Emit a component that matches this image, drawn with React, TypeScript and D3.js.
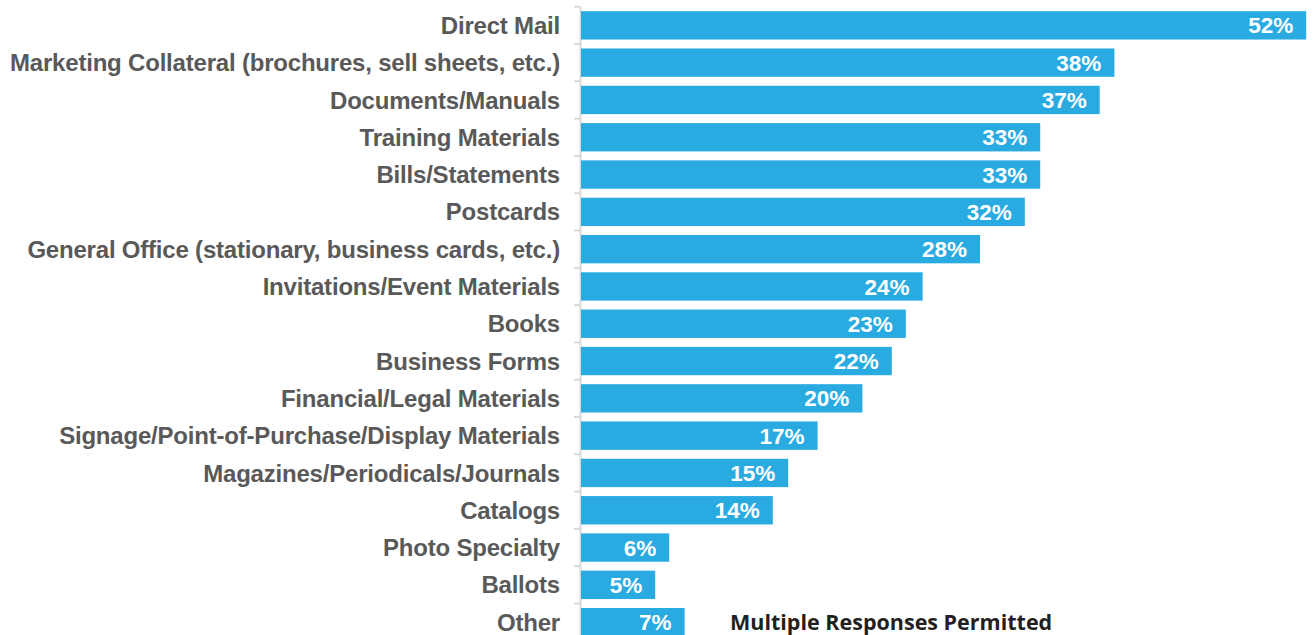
import React from "react";
import * as d3 from "d3";

const categories = [
  "Direct Mail",
  "Marketing Collateral (brochures, sell sheets, etc.)",
  "Documents/Manuals",
  "Training Materials",
  "Bills/Statements",
  "Postcards",
  "General Office (stationary, business cards, etc.)",
  "Invitations/Event Materials",
  "Books",
  "Business Forms",
  "Financial/Legal Materials",
  "Signage/Point-of-Purchase/Display Materials",
  "Magazines/Periodicals/Journals",
  "Catalogs",
  "Photo Specialty",
  "Ballots",
  "Other",
];
const values = [51.8, 38.1, 37.05, 32.8, 32.8, 31.7, 28.5, 24.4, 23.2, 22.2, 20.1, 16.9, 14.8, 13.7, 6.3, 5.3, 7.4];
const valueLabels = ["52%", "38%", "37%", "33%", "33%", "32%", "28%", "24%", "23%", "22%", "20%", "17%", "15%", "14%", "6%", "5%", "7%"];
const note = "Multiple Responses Permitted";

const W = 1313;
const H = 635;
const AXIS_X = 581;

export default function App() {
  const x = d3.scaleLinear().domain([0, 52]).range([AXIS_X, AXIS_X + 728]);
  const y = d3
    .scaleBand<string>()
    .domain(categories)
    .range([6.7, 640.8])
    .paddingInner(0.24)
    .paddingOuter(0.12);
  const step = y.step();
  const bw = y.bandwidth();
  const boundaries = categories.map((c) => (y(c) as number) - (step * 0.24) / 2);
  const labelFont = "'Liberation Sans', Arial, sans-serif";

  return (
    <svg
      width={W}
      height={H}
      style={{ position: "absolute", left: 0, top: 0, background: "#fff" }}
    >
      <line x1={AXIS_X - 0.5} x2={AXIS_X - 0.5} y1={6.7} y2={H} stroke="#d9d9d9" strokeWidth={2} />
      {boundaries.map((b, i) => (
        <line key={"t" + i} x1={574} x2={AXIS_X - 0.5} y1={b} y2={b} stroke="#d9d9d9" strokeWidth={2} />
      ))}
      {categories.map((c, i) => {
        const yy = y(c) as number;
        return (
          <g key={c}>
            <rect x={x(0)} y={yy} width={x(values[i]) - x(0)} height={bw} fill="#29abe2" />
            <text
              x={x(values[i]) - 13}
              y={yy + bw / 2}
              dy="0.36em"
              textAnchor="end"
              fill="#ffffff"
              fontFamily={labelFont}
              fontWeight="bold"
              fontSize={22.5}
            >
              {valueLabels[i]}
            </text>
            <text
              x={560}
              y={yy + bw / 2}
              dy="0.36em"
              textAnchor="end"
              fill="#595959"
              fontFamily={labelFont}
              fontWeight="bold"
              fontSize={24}
              letterSpacing={-0.2}
            >
              {c}
            </text>
          </g>
        );
      })}
      <text
        x={730}
        y={(y("Other") as number) + bw / 2}
        dy="0.36em"
        fill="#231f20"
        fontFamily="'Open Sans', Lato, sans-serif"
        fontWeight="bold"
        fontSize={21.5}
      >
        {note}
      </text>
    </svg>
  );
}
